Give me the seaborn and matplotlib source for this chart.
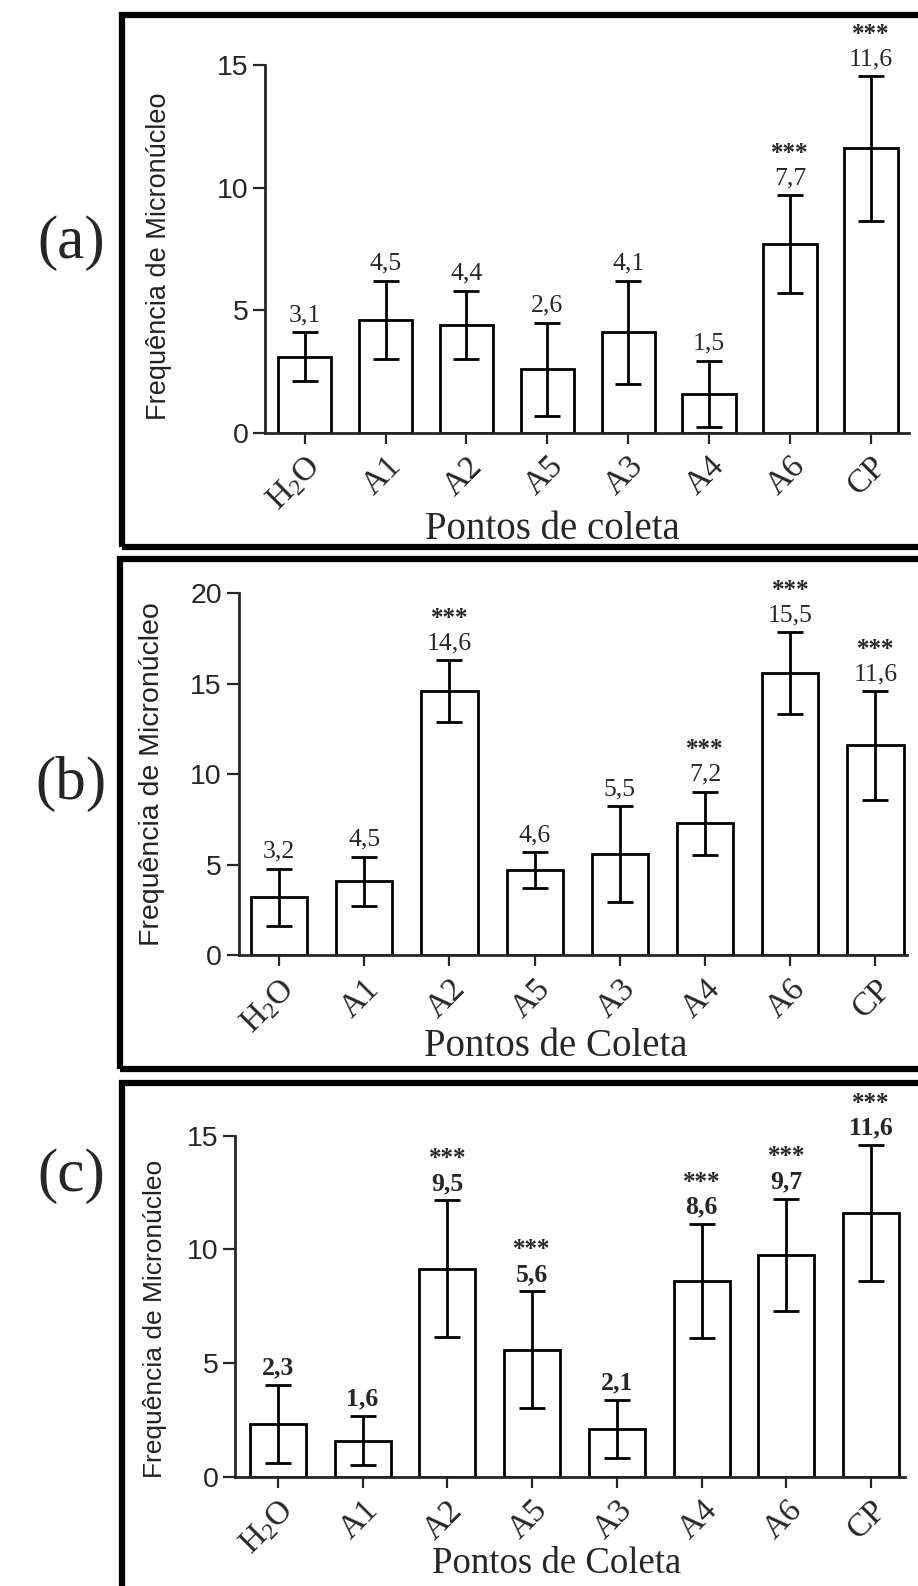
import matplotlib
matplotlib.use("Agg")
import matplotlib.pyplot as plt
from matplotlib.patches import Rectangle
import numpy as np
import pandas as pd
import seaborn as sns

# ── data ──────────────────────────────────────────────────────────────────────
points = ["H2O", "A1", "A2", "A5", "A3", "A4", "A6", "CP"]
tick_labels = [r"H$_\mathrm{2}$O", "A1", "A2", "A5", "A3", "A4", "A6", "CP"]

mean_a = [3.1, 4.6, 4.4, 2.6, 4.1, 1.6, 7.7, 11.6]
err_a = [1.0, 1.6, 1.4, 1.9, 2.1, 1.35, 2.0, 2.95]
text_a = ["3,1", "4,5", "4,4", "2,6", "4,1", "1,5", "7,7", "11,6"]
sig_a = [False, False, False, False, False, False, True, True]

mean_b = [3.2, 4.1, 14.6, 4.7, 5.6, 7.3, 15.6, 11.6]
err_b = [1.6, 1.35, 1.7, 1.0, 2.65, 1.75, 2.25, 3.0]
text_b = ["3,2", "4,5", "14,6", "4,6", "5,5", "7,2", "15,5", "11,6"]
sig_b = [False, False, True, False, False, True, True, True]

mean_c = [2.33, 1.6, 9.15, 5.6, 2.1, 8.6, 9.75, 11.6]
err_c = [1.72, 1.08, 3.0, 2.55, 1.27, 2.5, 2.48, 2.97]
text_c = ["2,3", "1,6", "9,5", "5,6", "2,1", "8,6", "9,7", "11,6"]
sig_c = [False, False, True, True, False, True, True, True]

# ── style ─────────────────────────────────────────────────────────────────────
sns.set_style("ticks")
plt.rcParams["font.family"] = ["Liberation Sans", "DejaVu Sans"]
plt.rcParams["mathtext.fontset"] = "custom"
plt.rcParams["mathtext.rm"] = "Liberation Serif"
plt.rcParams["mathtext.it"] = "Liberation Serif:italic"
plt.rcParams["mathtext.bf"] = "Liberation Serif:bold"

W, H = 918, 1586
fig = plt.figure(figsize=(W / 100, H / 100), dpi=100)

SERIF = "Liberation Serif"


def px_box(left, top, right, bottom):
    return [left / W, 1 - bottom / H, (right - left) / W, (bottom - top) / H]


panels = [
    dict(mean=mean_a, err=err_a, text=text_a, sig=sig_a, ymax=15, yticks=[0, 5, 10, 15],
         box=px_box(265, 65, 909, 433), xlim=(-0.49, 7.47), bold=False,
         ylab_size=19.5, ylab_pos=(-0.165, 0.48),
         xlab="Pontos de coleta", xlab_size=28, xlab_pos=(0.447, -0.262),
         letter="(a)", letter_y=243, frame=(121.5, 14.5, 546.5)),
    dict(mean=mean_b, err=err_b, text=text_b, sig=sig_b, ymax=20, yticks=[0, 5, 10, 15, 20],
         box=px_box(238.6, 593.5, 907, 955.4), xlim=(-0.474, 7.37), bold=False,
         ylab_size=20.5, ylab_pos=(-0.13, 0.5),
         xlab="Pontos de Coleta", xlab_size=28, xlab_pos=(0.475, -0.253),
         letter="(b)", letter_y=784, frame=(120.5, 559.5, 1068.5)),
    dict(mean=mean_c, err=err_c, text=text_c, sig=sig_c, ymax=15, yticks=[0, 5, 10, 15],
         box=px_box(235.5, 1135.5, 905, 1477), xlim=(-0.5, 7.4), bold=True,
         ylab_size=19, ylab_pos=(-0.12, 0.463),
         xlab="Pontos de Coleta", xlab_size=26.5, xlab_pos=(0.479, -0.255),
         letter="(c)", letter_y=1176, frame=(121.5, 1082.5, 1620)),
]

for p in panels:
    ax = fig.add_axes(p["box"])
    df = pd.DataFrame({"ponto": points, "freq": p["mean"]})
    sns.barplot(data=df, x="ponto", y="freq", order=points, errorbar=None,
                width=0.66, color="white", edgecolor="black", linewidth=2, ax=ax)
    x = np.arange(len(points))
    ax.errorbar(x, p["mean"], yerr=p["err"], fmt="none", ecolor="black",
                elinewidth=2, capsize=9.5, capthick=2, clip_on=False)

    weight = "bold" if p["bold"] else "normal"
    for xi, m, e, t, s in zip(x, p["mean"], p["err"], p["text"], p["sig"]):
        ax.annotate(t, (xi, m + e), xytext=(0, 17), textcoords="offset pixels",
                    ha="center", va="center", fontsize=18.5, family=SERIF,
                    fontweight=weight, annotation_clip=False)
        if s:
            ax.annotate("***", (xi, m + e), xytext=(0, 42), textcoords="offset pixels",
                        ha="center", va="center", fontsize=18, family=SERIF,
                        fontweight="bold", annotation_clip=False)

    ax.set_ylim(0, p["ymax"])
    ax.set_xlim(*p["xlim"])
    ax.set_yticks(p["yticks"])
    ax.set_xticks(x)
    ax.set_xticklabels(tick_labels, rotation=45, ha="right", rotation_mode="anchor",
                       fontsize=24, family=SERIF)
    ax.tick_params(axis="y", labelsize=20.5, length=9, width=1.6, direction="out", pad=3)
    ax.tick_params(axis="x", length=8, width=1.6, direction="out", pad=5)
    sns.despine(ax=ax)
    for sp in ("left", "bottom"):
        ax.spines[sp].set_linewidth(2)
    ax.set_ylabel("Frequência de Micronúcleo", fontsize=p["ylab_size"], color="#222222")
    ax.yaxis.label.set_va("center")
    ax.yaxis.set_label_coords(*p["ylab_pos"])
    ax.set_xlabel(p["xlab"], fontsize=p["xlab_size"], family=SERIF)
    ax.xaxis.label.set_va("center")
    ax.xaxis.set_label_coords(*p["xlab_pos"])

    fig.text(71 / W, 1 - p["letter_y"] / H, p["letter"], fontsize=44, family=SERIF,
             ha="center", va="center")

    fl, ft, fb = p["frame"]
    fig.patches.append(Rectangle((fl / W, 1 - fb / H), (W + 40 - fl) / W, (fb - ft) / H,
                                 transform=fig.transFigure, fill=False,
                                 edgecolor="black", linewidth=4.5))

fig.savefig("out.png", dpi=100)
